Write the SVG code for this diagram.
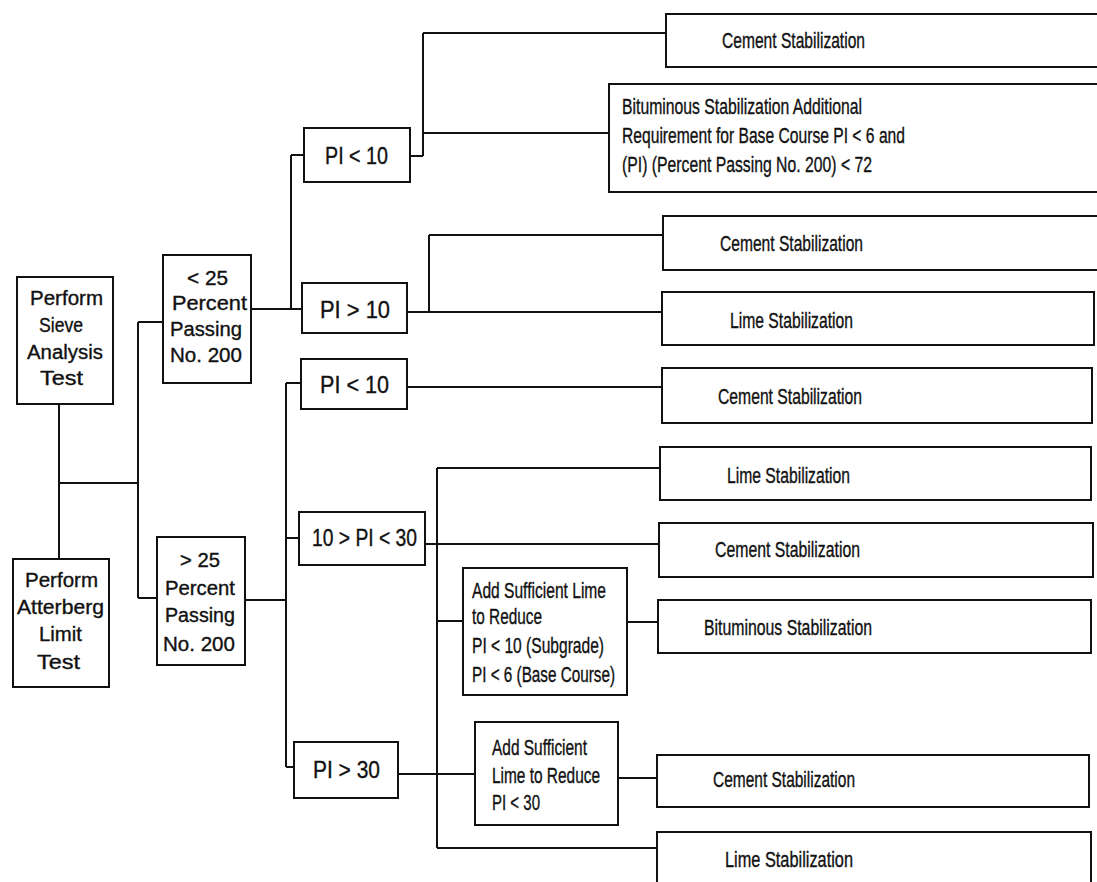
<svg xmlns="http://www.w3.org/2000/svg" width="1097" height="882" viewBox="0 0 1097 882">
<style>
.box{fill:#fff;stroke:#111;stroke-width:2}
.ln{fill:none;stroke:#111;stroke-width:2}
text{font-family:"Liberation Sans",Arial,Helvetica,sans-serif;fill:#111;stroke:#111;stroke-width:0.35}
.l{font-size:20px}
.r{font-size:22px}
.p{font-size:23px}
</style>
<rect x="0" y="0" width="1097" height="882" fill="#fff"/>
<g id="connectors">
<path class="ln" d="M59,404 V559"/>
<path class="ln" d="M59,483 H138"/>
<path class="ln" d="M138,322 V598"/>
<path class="ln" d="M138,322 H163"/>
<path class="ln" d="M138,598 H157"/>
<path class="ln" d="M251,309 H302"/>
<path class="ln" d="M291,155 V309"/>
<path class="ln" d="M291,155 H304"/>
<path class="ln" d="M245,600 H286"/>
<path class="ln" d="M286,383 V767"/>
<path class="ln" d="M286,383 H301"/>
<path class="ln" d="M286,538 H299"/>
<path class="ln" d="M286,767 H294"/>
<path class="ln" d="M410,156 H423"/>
<path class="ln" d="M423,33 V156"/>
<path class="ln" d="M423,33 H666"/>
<path class="ln" d="M423,133 H609"/>
<path class="ln" d="M407,312 H662"/>
<path class="ln" d="M429,235 V312"/>
<path class="ln" d="M429,235 H663"/>
<path class="ln" d="M407,387 H662"/>
<path class="ln" d="M437,468 V848"/>
<path class="ln" d="M437,468 H660"/>
<path class="ln" d="M425,544 H659"/>
<path class="ln" d="M437,621 H463"/>
<path class="ln" d="M627,622 H658"/>
<path class="ln" d="M398,774 H475"/>
<path class="ln" d="M618,778 H657"/>
<path class="ln" d="M437,848 H657"/>
</g>
<g id="sieve">
<rect class="box" x="17" y="277" width="96" height="127"/>
<text class="l" x="30" y="305" textLength="73" lengthAdjust="spacingAndGlyphs">Perform</text>
<text class="l" x="39" y="332" textLength="44" lengthAdjust="spacingAndGlyphs">Sieve</text>
<text class="l" x="27" y="359" textLength="76" lengthAdjust="spacingAndGlyphs">Analysis</text>
<text class="l" x="40" y="385" textLength="43" lengthAdjust="spacingAndGlyphs">Test</text>
</g>
<g id="atterberg">
<rect class="box" x="13" y="559" width="96" height="128"/>
<text class="l" x="25" y="587" textLength="73" lengthAdjust="spacingAndGlyphs">Perform</text>
<text class="l" x="17" y="614" textLength="87" lengthAdjust="spacingAndGlyphs">Atterberg</text>
<text class="l" x="39" y="641" textLength="43" lengthAdjust="spacingAndGlyphs">Limit</text>
<text class="l" x="37" y="669" textLength="43" lengthAdjust="spacingAndGlyphs">Test</text>
</g>
<g id="lt25">
<rect class="box" x="163" y="255" width="88" height="128"/>
<text class="l" x="187" y="285" textLength="41" lengthAdjust="spacingAndGlyphs">&lt; 25</text>
<text class="l" x="172" y="310" textLength="75" lengthAdjust="spacingAndGlyphs">Percent</text>
<text class="l" x="170" y="336" textLength="72" lengthAdjust="spacingAndGlyphs">Passing</text>
<text class="l" x="170" y="362" textLength="72" lengthAdjust="spacingAndGlyphs">No. 200</text>
</g>
<g id="gt25">
<rect class="box" x="157" y="537" width="88" height="128"/>
<text class="l" x="180" y="567" textLength="40" lengthAdjust="spacingAndGlyphs">&gt; 25</text>
<text class="l" x="165" y="595" textLength="70" lengthAdjust="spacingAndGlyphs">Percent</text>
<text class="l" x="165" y="622" textLength="70" lengthAdjust="spacingAndGlyphs">Passing</text>
<text class="l" x="163" y="651" textLength="72" lengthAdjust="spacingAndGlyphs">No. 200</text>
</g>
<g id="pi-lt10-a">
<rect class="box" x="304" y="128" width="106" height="54"/>
<text class="p" x="325" y="164" textLength="63" lengthAdjust="spacingAndGlyphs">PI &lt; 10</text>
</g>
<g id="pi-gt10">
<rect class="box" x="302" y="283" width="105" height="50"/>
<text class="p" x="320" y="318" textLength="70" lengthAdjust="spacingAndGlyphs">PI  &gt; 10</text>
</g>
<g id="pi-lt10-b">
<rect class="box" x="301" y="359" width="106" height="50"/>
<text class="p" x="320" y="393" textLength="69" lengthAdjust="spacingAndGlyphs">PI  &lt; 10</text>
</g>
<g id="pi-10-30">
<rect class="box" x="299" y="512" width="126" height="53"/>
<text class="p" x="312" y="546" textLength="105" lengthAdjust="spacingAndGlyphs">10 &gt; PI &lt; 30</text>
</g>
<g id="pi-gt30">
<rect class="box" x="294" y="742" width="104" height="56"/>
<text class="p" x="313" y="778" textLength="67" lengthAdjust="spacingAndGlyphs">PI &gt; 30</text>
</g>
<g id="cement1">
<rect class="box" x="666" y="14" width="440" height="53"/>
<text class="r" x="722" y="48" textLength="143" lengthAdjust="spacingAndGlyphs">Cement Stabilization</text>
</g>
<g id="bituminous-additional">
<rect class="box" x="609" y="84" width="497" height="108"/>
<text class="r" x="622" y="114" textLength="240" lengthAdjust="spacingAndGlyphs">Bituminous Stabilization Additional</text>
<text class="r" x="622" y="143" textLength="283" lengthAdjust="spacingAndGlyphs">Requirement for Base Course PI &lt; 6 and</text>
<text class="r" x="622" y="172" textLength="250" lengthAdjust="spacingAndGlyphs">(PI) (Percent Passing No. 200) &lt; 72</text>
</g>
<g id="cement2">
<rect class="box" x="663" y="216" width="443" height="54"/>
<text class="r" x="720" y="251" textLength="143" lengthAdjust="spacingAndGlyphs">Cement Stabilization</text>
</g>
<g id="lime1">
<rect class="box" x="662" y="292" width="432" height="53"/>
<text class="r" x="730" y="328" textLength="123" lengthAdjust="spacingAndGlyphs">Lime Stabilization</text>
</g>
<g id="cement3">
<rect class="box" x="662" y="368" width="430" height="55"/>
<text class="r" x="718" y="404" textLength="144" lengthAdjust="spacingAndGlyphs">Cement Stabilization</text>
</g>
<g id="lime2">
<rect class="box" x="660" y="447" width="431" height="53"/>
<text class="r" x="727" y="483" textLength="123" lengthAdjust="spacingAndGlyphs">Lime Stabilization</text>
</g>
<g id="cement4">
<rect class="box" x="659" y="523" width="434" height="54"/>
<text class="r" x="715" y="557" textLength="145" lengthAdjust="spacingAndGlyphs">Cement Stabilization</text>
</g>
<g id="add-lime-1">
<rect class="box" x="463" y="568" width="164" height="127"/>
<text class="r" x="472" y="598" textLength="134" lengthAdjust="spacingAndGlyphs">Add Sufficient Lime</text>
<text class="r" x="472" y="624" textLength="70" lengthAdjust="spacingAndGlyphs">to Reduce</text>
<text class="r" x="472" y="653" textLength="132" lengthAdjust="spacingAndGlyphs">PI &lt; 10 (Subgrade)</text>
<text class="r" x="472" y="682" textLength="143" lengthAdjust="spacingAndGlyphs">PI &lt; 6 (Base Course)</text>
</g>
<g id="bituminous">
<rect class="box" x="658" y="600" width="433" height="53"/>
<text class="r" x="704" y="635" textLength="168" lengthAdjust="spacingAndGlyphs">Bituminous Stabilization</text>
</g>
<g id="add-lime-2">
<rect class="box" x="475" y="722" width="143" height="103"/>
<text class="r" x="492" y="755" textLength="95" lengthAdjust="spacingAndGlyphs">Add Sufficient</text>
<text class="r" x="492" y="783" textLength="108" lengthAdjust="spacingAndGlyphs">Lime to Reduce</text>
<text class="r" x="492" y="810" textLength="48" lengthAdjust="spacingAndGlyphs">PI &lt; 30</text>
</g>
<g id="cement5">
<rect class="box" x="657" y="755" width="432" height="52"/>
<text class="r" x="713" y="787" textLength="142" lengthAdjust="spacingAndGlyphs">Cement Stabilization</text>
</g>
<g id="lime3">
<rect class="box" x="657" y="832" width="434" height="60"/>
<text class="r" x="725" y="867" textLength="128" lengthAdjust="spacingAndGlyphs">Lime Stabilization</text>
</g>
</svg>
